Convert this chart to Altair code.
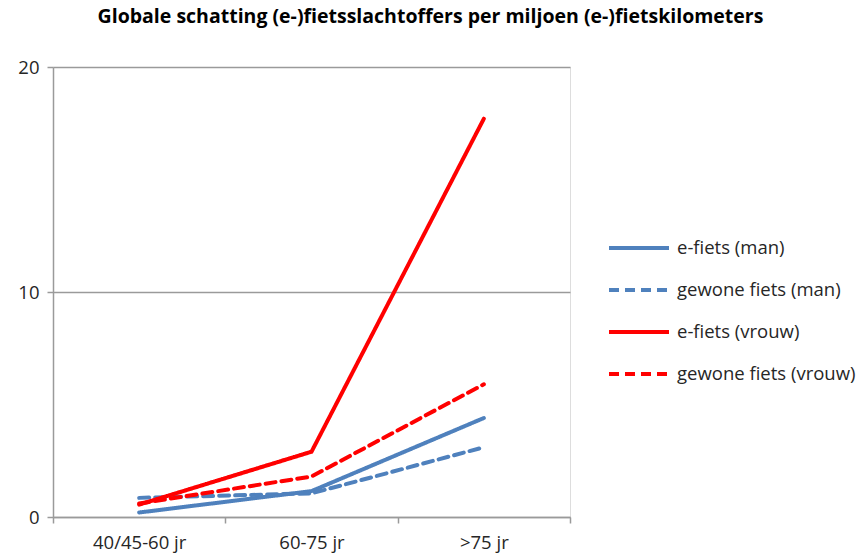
import altair as alt
import pandas as pd

# Age groups on the x axis
age_groups = ["40/45-60 jr", "60-75 jr", ">75 jr"]

# Estimated casualties per million cycled kilometres, per series
series_names = [
    "e-fiets (man)",
    "gewone fiets (man)",
    "e-fiets (vrouw)",
    "gewone fiets (vrouw)",
]
efiets_man = [0.2, 1.15, 4.4]
gewoon_man = [0.85, 1.05, 3.1]
efiets_vrouw = [0.55, 2.9, 17.7]
gewoon_vrouw = [0.6, 1.8, 5.9]

series_colors = ["#4F81BD", "#4F81BD", "#FF0000", "#FF0000"]
series_dashes = [[1, 0], [10, 6], [1, 0], [10, 6]]

rows = []
for name, vals in zip(series_names, [efiets_man, gewoon_man, efiets_vrouw, gewoon_vrouw]):
    for age, v in zip(age_groups, vals):
        rows.append({"leeftijd": age, "waarde": v, "reeks": name})
df = pd.DataFrame(rows)

FONT = "Open Sans"
LABEL_SIZE = 18.5
TEXT_COLOR = "#262626"
AXIS_GREY = "#9a9a9a"

legend_opts = dict(
    title=None,
    orient="none",
    legendX=554,
    legendY=149,
    symbolType="stroke",
    symbolSize=3600,
    symbolStrokeWidth=4,
    labelFontSize=LABEL_SIZE,
    labelFont=FONT,
    labelColor=TEXT_COLOR,
    rowPadding=-1.5,
    labelOffset=6,
    labelLimit=300,
)

lines = alt.Chart(df).mark_line(strokeWidth=4, strokeCap="round").encode(
    x=alt.X(
        "leeftijd:N",
        sort=age_groups,
        scale=alt.Scale(paddingInner=0, paddingOuter=0),
        axis=alt.Axis(
            title=None,
            labelAngle=0,
            labelFontSize=LABEL_SIZE,
            labelColor=TEXT_COLOR,
            labelFont=FONT,
            labelPadding=10,
            domainColor=AXIS_GREY,
            domainWidth=1.5,
            tickColor=AXIS_GREY,
            tickWidth=1.5,
            tickSize=6,
            tickBand="extent",
            grid=False,
        ),
    ),
    y=alt.Y(
        "waarde:Q",
        scale=alt.Scale(domain=[0, 20], nice=False),
        axis=alt.Axis(
            title=None,
            values=[0, 10, 20],
            labelFontSize=LABEL_SIZE,
            labelColor=TEXT_COLOR,
            labelFont=FONT,
            labelPadding=8,
            domainColor=AXIS_GREY,
            domainWidth=1.5,
            tickColor=AXIS_GREY,
            tickWidth=1.5,
            tickSize=6,
            grid=True,
            gridColor=AXIS_GREY,
            gridWidth=1.5,
        ),
    ),
    color=alt.Color(
        "reeks:N",
        sort=series_names,
        scale=alt.Scale(domain=series_names, range=series_colors),
        legend=alt.Legend(**legend_opts),
    ),
    strokeDash=alt.StrokeDash(
        "reeks:N",
        sort=series_names,
        scale=alt.Scale(domain=series_names, range=series_dashes),
        legend=alt.Legend(**legend_opts),
    ),
)

chart = lines.properties(
    width=517,
    height=450,
    autosize=alt.AutoSizeParams(type="none"),
    padding={"left": 53, "top": 67, "right": 288, "bottom": 40},
    title=alt.TitleParams(
        "Globale schatting (e-)fietsslachtoffers per miljoen (e-)fietskilometers",
        font=FONT,
        fontSize=19.5,
        fontWeight="bold",
        color="#000000",
        anchor="middle",
        dx=119,
        offset=31,
    ),
).configure_view(stroke=None).configure(background="white")

chart.save("out.html", embed_options={"renderer": "svg", "actions": False})
